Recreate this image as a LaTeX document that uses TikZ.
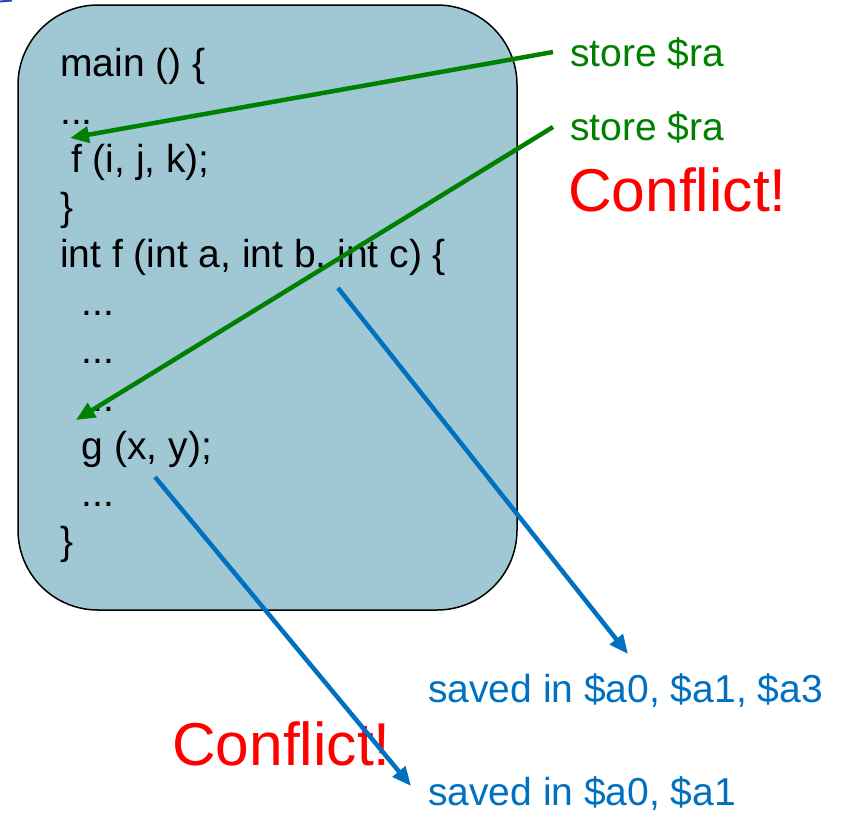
\documentclass[tikz,border=0pt]{standalone}
\usepackage{fontspec}
\setmainfont{Liberation Sans}
\usetikzlibrary{arrows.meta}
\definecolor{boxfill}{RGB}{160,200,212}
\definecolor{pgreen}{RGB}{0,128,0}
\definecolor{pblue}{RGB}{0,112,192}
\definecolor{pred}{RGB}{255,0,0}
\definecolor{edgeblue}{RGB}{40,70,200}
\tikzset{
  codeline/.style={anchor=base west, inner sep=0pt, font=\fontsize{39}{47}\selectfont, text=black},
  note/.style={anchor=base west, inner sep=0pt, font=\fontsize{39}{47}\selectfont},
  bigred/.style={anchor=base west, inner sep=0pt, font=\fontsize{60.5}{70}\selectfont, text=pred},
  garrow/.style={draw=pgreen, line width=4.5pt, -{Triangle[length=19pt,width=16pt]}},
  barrow/.style={draw=pblue, line width=4.5pt, -{Triangle[length=19pt,width=16pt]}},
}
\begin{document}
\begin{tikzpicture}[x=1pt,y=-1pt]
\useasboundingbox (0,0) rectangle (846,812);
% fragment at top-left corner
\draw[edgeblue, line width=2pt] (0,1.5) -- (12,0.5);
% code box
\draw[fill=boxfill, draw=black, line width=1.5pt, rounded corners=80pt] (18,5) rectangle (517,610);
% code lines
\node[codeline] (l1) at (60,76.4) {main () \{};
\node[codeline] (l2) at (60,124) {...};
\node[codeline] (l3) at (60,172) {\ f (i, j, k);};
\node[codeline] (l4) at (60,220) {\}};
\node[codeline] (l5) at (60,267.6) {int f (int a, int b, int c) \{};
\node[codeline] (l6) at (60,315) {\ \ ...};
\node[codeline] (l7) at (60,363) {\ \ ...};
\node[codeline] (l8) at (60,411) {\ \ ...};
\node[codeline] (l9) at (60,459) {\ \ g (x, y);};
\node[codeline] (l10) at (60,506) {\ \ ...};
\node[codeline] (l11) at (60,554) {\}};
% notes
\node[note, text=pgreen] (s1) at (570,66) {store \$ra};
\node[note, text=pgreen] (s2) at (570,140.7) {store \$ra};
\node[bigred] (c1) at (568,211.7) {Conflict!};
\node[note, text=pblue] (v1) at (428,702) {saved in \$a0, \$a1, \$a3};
\node[note, text=pblue] (v2) at (428,805) {saved in \$a0, \$a1};
% arrow ends
\coordinate (gs1) at (553,52);
\coordinate (gt1) at (70,138);
\coordinate (gs2) at (553,127);
\coordinate (gt2) at (76,420);
\coordinate (bs1) at (338,288);
\coordinate (bt1) at (628,654);
\coordinate (bs2) at (155,477);
\coordinate (bt2) at (411,786);
\draw[garrow] (gs1) -- (gt1);
\draw[garrow] (gs2) -- (gt2);
\draw[barrow] (bs1) -- (bt1);
\node[bigred] (c2) at (172,765) {Conflict!};
\draw[barrow] (bs2) -- (bt2);
\end{tikzpicture}
\end{document}
